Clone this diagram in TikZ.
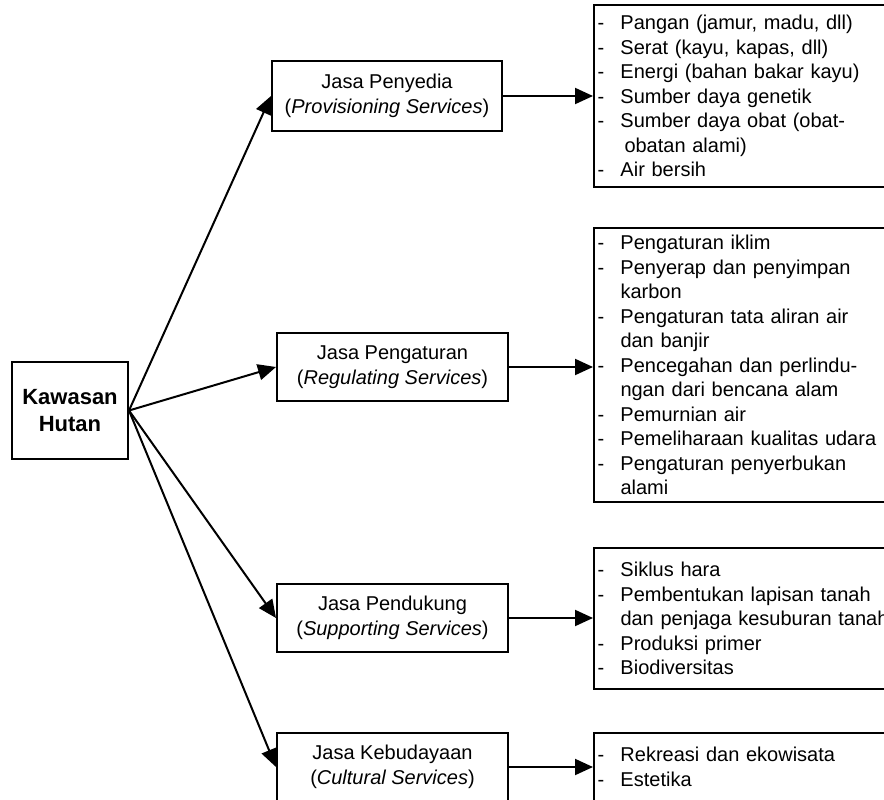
\documentclass[tikz,border=0pt]{standalone}
\usepackage{fontspec}
\setmainfont{Liberation Sans}
\usetikzlibrary{arrows.meta}
\newcommand{\itm}[1]{\makebox[23pt][l]{-}#1}
\newcommand{\cnt}[1]{\hspace*{23pt}#1}
\begin{document}
\begin{tikzpicture}[x=1pt,y=-1pt,
    box/.style={draw,line width=2pt,align=center,inner sep=0pt,
      font=\fontsize{20pt}{24.5pt}\selectfont},
    listbox/.style={draw,line width=2pt,align=left,anchor=west,
      text width=340pt,inner xsep=3.5pt,inner ysep=0pt,
      font=\fontsize{20pt}{24.5pt}\selectfont},
    link/.style={line width=2pt,-{Triangle[length=18pt,width=16pt]}}]
    \clip (0,0) rectangle (884,800);
    \node[box,minimum width=116pt,minimum height=97pt,
      font=\fontsize{22pt}{27pt}\selectfont\bfseries] (hutan) at (70,410.5) {Kawasan\\Hutan};
    \node[box,minimum width=230pt,minimum height=70pt] (penyedia) at (387,96) {Jasa Penyedia\\(\textit{Provisioning Services})};
    \node[box,minimum width=231pt,minimum height=68pt] (pengaturan) at (392.5,367) {Jasa Pengaturan\\(\textit{Regulating Services})};
    \node[box,minimum width=231pt,minimum height=68pt] (pendukung) at (392.5,618) {Jasa Pendukung\\(\textit{Supporting Services})};
    \node[box,minimum width=231pt,minimum height=68pt] (kebudayaan) at (392.5,767) {Jasa Kebudayaan\\(\textit{Cultural Services})};
    % daftar jasa
    \node[listbox,minimum height=182pt] (lprov) at (593,96) {\itm{Pangan (jamur, madu, dll)}\\\itm{Serat (kayu, kapas, dll)}\\\itm{Energi (bahan bakar kayu)}\\\itm{Sumber daya genetik}\\\itm{Sumber daya obat (obat-}\\\hspace*{27pt}obatan alami)\\\itm{Air bersih}};
    \node[listbox,minimum height=274pt] (lreg) at (593,365) {\itm{Pengaturan iklim}\\\itm{Penyerap dan penyimpan}\\\cnt{karbon}\\\itm{Pengaturan tata aliran air}\\\cnt{dan banjir}\\\itm{Pencegahan dan perlindu-}\\\cnt{ngan dari bencana alam}\\\itm{Pemurnian air}\\\itm{Pemeliharaan kualitas udara}\\\itm{Pengaturan penyerbukan}\\\cnt{alami}};
    \node[listbox,minimum height=141pt] (lsup) at (593,618.5) {\itm{Siklus hara}\\\itm{Pembentukan lapisan tanah}\\\cnt{dan penjaga kesuburan tanah}\\\itm{Produksi primer}\\\itm{Biodiversitas}};
    \node[listbox,minimum height=68pt] (lcult) at (593,767) {\itm{Rekreasi dan ekowisata}\\\itm{Estetika}};
    % panah
    \draw[link] (hutan.east) -- (penyedia.west);
    \draw[link] (hutan.east) -- (pengaturan.west);
    \draw[link] (hutan.east) -- (pendukung.west);
    \draw[link] (hutan.east) -- (kebudayaan.west);
    \draw[link] (penyedia.east) -- (penyedia.east -| lprov.west);
    \draw[link] (pengaturan.east) -- (pengaturan.east -| lreg.west);
    \draw[link] (pendukung.east) -- (pendukung.east -| lsup.west);
    \draw[link] (kebudayaan.east) -- (kebudayaan.east -| lcult.west);
\end{tikzpicture}
\end{document}
